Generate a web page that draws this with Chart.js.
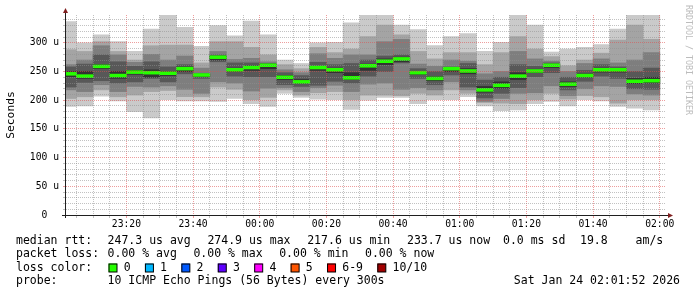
<!DOCTYPE html>
<html>
<head>
<meta charset="utf-8">
<script src="https://cdn.jsdelivr.net/npm/chart.js@4.4.1/dist/chart.umd.min.js"></script>
<style>
  html, body { margin: 0; padding: 0; background: #fff; }
  canvas { display: block; }
</style>
</head>
<body>
<canvas id="smoke" width="697" height="297"></canvas>
<script>
// end time of every 5 minute slot
const slotEnds = ['23:05', '23:10', '23:15', '23:20', '23:25', '23:30', '23:35', '23:40', '23:45', '23:50', '23:55', '00:00',
    '00:05', '00:10', '00:15', '00:20', '00:25', '00:30', '00:35', '00:40', '00:45', '00:50', '00:55', '01:00',
    '01:05', '01:10', '01:15', '01:20', '01:25', '01:30', '01:35', '01:40', '01:45', '01:50', '01:55', '02:00'];
const graphStart = '23:01:52';
const graphEnd = '02:01:52';

// sorted rtt of the 10 pings per slot, in us (ping1 = fastest)
const ping1 = [189, 190, 207, 199, 180, 169, 201, 199, 199, 198, 203, 194, 189, 212, 205, 202, 201, 184, 200, 205, 205, 194, 201, 201, 206, 190, 182, 183, 194, 198, 190, 201, 199, 189, 186, 183];
const ping2 = [203, 206, 218, 206, 209, 215, 217, 206, 206, 223, 219, 201, 205, 218, 209, 213, 215, 201, 209, 209, 208, 212, 209, 218, 212, 196, 195, 194, 201, 212, 202, 208, 206, 195, 201, 201];
const ping3 = [218, 215, 227, 215, 224, 223, 225, 219, 212, 232, 230, 216, 221, 222, 215, 222, 226, 215, 228, 230, 219, 222, 218, 232, 218, 198, 203, 212, 213, 225, 208, 220, 225, 224, 211, 209];
const ping4 = [223, 231, 234, 230, 232, 238, 232, 246, 238, 267, 242, 241, 241, 227, 224, 226, 233, 230, 242, 250, 265, 238, 227, 244, 223, 204, 212, 222, 241, 248, 218, 233, 242, 238, 220, 219];
const ping5 = [241, 238, 255, 238, 245, 240, 243, 250, 241, 270, 250, 252, 255, 236, 229, 252, 248, 236, 252, 262, 267, 245, 234, 250, 246, 214, 221, 236, 248, 257, 224, 240, 249, 249, 229, 230];
const ping6 = [250, 250, 262, 250, 252, 253, 250, 258, 245, 277, 256, 260, 263, 243, 236, 259, 256, 248, 263, 272, 275, 250, 241, 257, 255, 224, 232, 248, 254, 263, 232, 246, 256, 255, 238, 240];
const ping7 = [258, 263, 279, 267, 259, 267, 258, 262, 247, 279, 265, 265, 264, 248, 243, 266, 262, 264, 270, 277, 279, 255, 250, 258, 264, 235, 240, 262, 259, 265, 240, 252, 262, 258, 250, 256];
const ping8 = [262, 270, 295, 279, 266, 280, 270, 277, 256, 285, 271, 273, 267, 253, 248, 281, 273, 279, 279, 302, 306, 263, 259, 270, 268, 246, 250, 285, 272, 268, 250, 264, 272, 265, 270, 283];
const ping9 = [288, 285, 302, 285, 270, 295, 296, 296, 265, 302, 302, 292, 279, 262, 255, 292, 283, 289, 311, 331, 314, 285, 272, 283, 283, 262, 283, 311, 289, 276, 260, 270, 282, 305, 331, 306];
const ping10 = [337, 300, 314, 302, 285, 324, 348, 327, 294, 330, 312, 338, 314, 270, 264, 300, 301, 335, 348, 348, 331, 323, 295, 311, 316, 285, 301, 348, 331, 284, 289, 292, 297, 324, 348, 348];
const median = [246, 242, 259, 243, 249, 248, 247, 255, 244, 275, 253, 257, 261, 240, 232, 257, 253, 239, 260, 268, 272, 248, 238, 255, 251, 218, 226, 242, 251, 261, 228, 243, 253, 253, 233, 234];

const yMax = 348.5;
const yTicks = [0, 10, 20, 30, 40, 50, 60, 70, 80, 90, 100, 110, 120, 130, 140, 150, 160, 170, 180, 190, 200, 210, 220, 230, 240, 250, 260, 270, 280, 290, 300, 310, 320, 330, 340];
const yMajor = [0, 50, 100, 150, 200, 250, 300];
const yLabels = ['0  ', '50 u', '100 u', '150 u', '200 u', '250 u', '300 u'];
const xLabels = ['23:20', '23:40', '00:00', '00:20', '00:40', '01:00', '01:20', '01:40', '02:00'];

const rttStats = ['247.3 us avg', '274.9 us max', '217.6 us min', '233.7 us now'];
const rttSd = '0.0 ms sd';
const rttAm = ['19.8', 'am/s'];
const lossStats = ['0.00 % avg', '0.00 % max', '0.00 % min', '0.00 % now'];
const lossLabels = ['0', '1', '2', '3', '4', '5', '6-9', '10/10'];
const lossColors = ['#26ff00', '#00b8ff', '#0059ff', '#5e00ff', '#ff00ff', '#ff5500', '#ff0000', '#a10000'];
const probeText = '10 ICMP Echo Pings (56 Bytes) every 300s';
const stamp = 'Sat Jan 24 02:01:52 2026';

const shades = ['#cacaca', '#a4a4a4', '#7e7e7e', '#585858', '#323232'];
const MONO = "'DejaVu Sans Mono', monospace";

function toMin(s) {
    const [h, m, sec = 0] = s.split(':').map(Number);
    let v = h * 60 + m + sec / 60;
    if (h >= 12) v -= 1440;
    return v;
}

const pings = [ping1, ping2, ping3, ping4, ping5, ping6, ping7, ping8, ping9, ping10];
const centers = slotEnds.map(t => toMin(t) - 2.5);
const xTicks = slotEnds.map(toMin);
const xMajor = xLabels.map(toMin);

const smoke = shades.map((c, k) => ({
    data: centers.map((x, i) => ({ x, y: [pings[k][i], pings[9 - k][i]] })),
    backgroundColor: c,
    order: 10 - k
}));

const band = 1.45 * yMax / 200; // median band about 3 px high
const medianSet = {
    data: centers.map((x, i) => ({ x, y: [median[i] - band, median[i] + band] })),
    backgroundColor: lossColors[0],
    order: 0
};

const gridColor = major => major ? 'rgba(222,79,79,0.55)' : 'rgba(143,143,143,0.55)';

const decor = {
    id: 'decor',
    afterDraw(chart) {
        const { ctx, chartArea: a } = chart;
        ctx.save();
        // axes
        ctx.strokeStyle = '#1f1f1f';
        ctx.lineWidth = 1;
        ctx.beginPath();
        ctx.moveTo(a.left - 4, a.bottom + 0.5);
        ctx.lineTo(a.right + 2, a.bottom + 0.5);
        ctx.moveTo(a.left - 0.5, a.bottom + 3);
        ctx.lineTo(a.left - 0.5, a.top - 2);
        ctx.stroke();
        // arrows
        ctx.fillStyle = '#801f1f';
        ctx.beginPath();
        ctx.moveTo(a.left - 3, a.top - 2);
        ctx.lineTo(a.left + 2, a.top - 2);
        ctx.lineTo(a.left - 0.5, a.top - 7);
        ctx.closePath();
        ctx.fill();
        ctx.beginPath();
        ctx.moveTo(a.right + 2, a.bottom - 2);
        ctx.lineTo(a.right + 2, a.bottom + 3);
        ctx.lineTo(a.right + 7, a.bottom + 0.5);
        ctx.closePath();
        ctx.fill();

        // axis title
        ctx.fillStyle = '#000';
        ctx.font = '11.3px ' + MONO;
        ctx.save();
        ctx.translate(11, (a.top + a.bottom) / 2);
        ctx.rotate(-Math.PI / 2);
        ctx.textAlign = 'center';
        ctx.textBaseline = 'middle';
        ctx.fillText('Seconds', 0, 0);
        ctx.restore();

        // watermark
        ctx.save();
        ctx.fillStyle = '#bcbcbc';
        ctx.font = '8.3px ' + MONO;
        ctx.translate(688, 5);
        ctx.rotate(Math.PI / 2);
        ctx.textAlign = 'left';
        ctx.textBaseline = 'middle';
        ctx.fillText('RRDTOOL / TOBI OETIKER', 0, 0);
        ctx.restore();

        // legend
        ctx.font = '11.5px ' + MONO;
        ctx.textBaseline = 'middle';
        ctx.textAlign = 'left';
        const col = 107.6;
        let y = 241;
        ctx.fillText('median rtt:', 16, y);
        rttStats.forEach((s, i) => ctx.fillText(s, col + i * 99.8, y));
        ctx.fillText(rttSd, 503, y);
        ctx.fillText(rttAm[0], 580, y);
        ctx.fillText(rttAm[1], 635.6, y);

        y = 254.5;
        ctx.fillText('packet loss:', 16, y);
        lossStats.forEach((s, i) => ctx.fillText(s, col + i * 85.8, y));

        y = 268;
        ctx.fillText('loss color:', 16, y);
        let bx = 108.5;
        lossLabels.forEach((s, i) => {
            ctx.fillStyle = lossColors[i];
            ctx.fillRect(bx, y - 4.5, 8.5, 8.5);
            ctx.strokeStyle = '#000';
            ctx.strokeRect(bx + 0.5, y - 4, 8, 8);
            ctx.fillStyle = '#000';
            ctx.fillText(s, bx + 15.2, y);
            bx += 15.2 + ctx.measureText(s).width + 14.3;
        });

        y = 281.5;
        ctx.fillText('probe:', 16, y);
        ctx.fillText(probeText, col, y);
        ctx.textAlign = 'right';
        ctx.fillText(stamp, 680, y);
        ctx.restore();
    }
};

Chart.defaults.font.family = MONO;

new Chart(document.getElementById('smoke'), {
    type: 'bar',
    data: { datasets: [...smoke, medianSet] },
    options: {
        responsive: false,
        animation: false,
        events: [],
        layout: { padding: { top: 15, right: 31, bottom: 0, left: 0 } },
        datasets: {
            bar: { grouped: false, barPercentage: 1, categoryPercentage: 1, borderWidth: 0 }
        },
        plugins: { legend: { display: false }, tooltip: { enabled: false } },
        scales: {
            x: {
                type: 'linear',
                offset: false,
                min: toMin(graphStart),
                max: toMin(graphEnd),
                afterBuildTicks: s => { s.ticks = xTicks.map(v => ({ value: v })); },
                afterFit: s => { s.height = 82; },
                ticks: {
                    autoSkip: false, maxRotation: 0, padding: 1,
                    font: { size: 9.7 }, color: '#000',
                    callback: v => { const i = xMajor.indexOf(v); return i < 0 ? '' : xLabels[i]; }
                },
                grid: {
                    offset: false, z: 1, lineWidth: 1, tickLength: 3,
                    color: c => gridColor(xMajor.includes(c.tick.value)),
                    tickColor: c => gridColor(xMajor.includes(c.tick.value))
                },
                border: { display: false, dash: [1, 1] }
            },
            y: {
                min: 0,
                max: yMax,
                afterBuildTicks: s => { s.ticks = yTicks.map(v => ({ value: v })); },
                afterFit: s => { s.width = 66; },
                ticks: {
                    autoSkip: false, padding: 4, font: { size: 9.7 }, color: '#000',
                    callback: v => { const i = yMajor.indexOf(v); return i < 0 ? '' : yLabels[i]; }
                },
                grid: {
                    z: 1, lineWidth: 1, tickLength: 3,
                    color: c => gridColor(yMajor.includes(c.tick.value)),
                    tickColor: c => gridColor(yMajor.includes(c.tick.value))
                },
                border: { display: false, dash: [1, 1] }
            }
        }
    },
    plugins: [decor]
});
</script>
</body>
</html>
